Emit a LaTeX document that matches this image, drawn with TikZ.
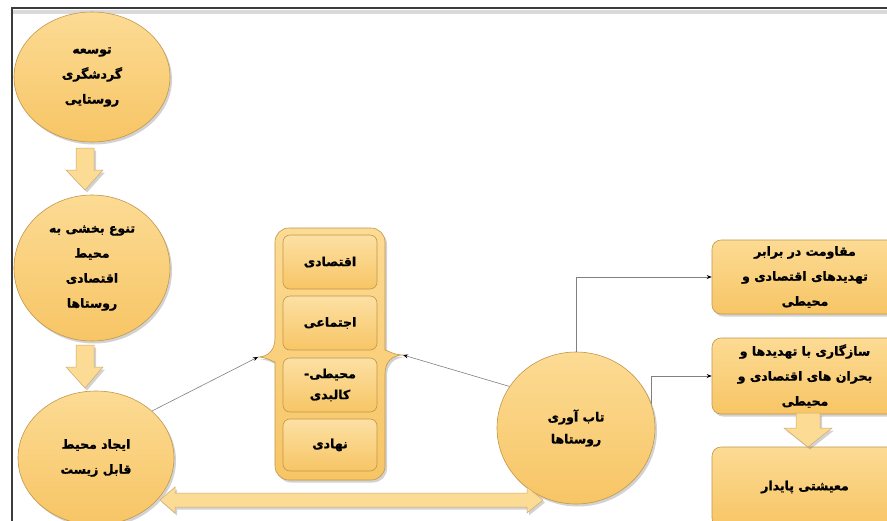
\documentclass[tikz,border=0pt]{standalone}
\usepackage{fontspec}
\newfontfamily\arabicfont[Script=Arabic, BoldFont={DejaVu Sans Bold}, BoldFeatures={FakeBold=1.2}]{DejaVu Sans}
\TeXXeTstate=1
\usetikzlibrary{shapes.geometric,shadows,arrows.meta,calc}
\newcommand{\fa}[1]{\beginR #1\endR}
\definecolor{fillA}{HTML}{FCDB94}
\definecolor{fillB}{HTML}{F7C565}
\definecolor{edgeC}{HTML}{C3964A}
\definecolor{frameC}{HTML}{3C3C3C}
\definecolor{lineC}{HTML}{808080}
\tikzset{
  txt/.style={font=\arabicfont\bfseries\fontsize{12.5}{25}\selectfont, align=center, text=black},
  shad/.style={drop shadow={opacity=0.35, shadow xshift=2pt, shadow yshift=-2.5pt}},
  oval/.style={ellipse, draw=edgeC, line width=0.6pt, top color=fillA, bottom color=fillB, inner sep=0pt, shad, txt},
  rbox/.style={rectangle, rounded corners=9pt, draw=edgeC, line width=0.6pt, top color=fillA, bottom color=fillB, inner sep=0pt, shad, txt},
  ibox/.style={rectangle, rounded corners=7pt, draw=edgeC, line width=0.6pt, top color=fillA!85!white, bottom color=fillB, inner sep=0pt, minimum width=94pt, minimum height=54pt, txt},
  holder/.style={draw=edgeC, line width=0.6pt, top color=fillA, bottom color=fillB, shad},
  barrow/.style={draw=edgeC!80!white, line width=0.5pt, fill=fillA, shad},
  conn/.style={draw=lineC, line width=0.6pt, -{Stealth[length=5pt,width=4pt,black]}},
}
\begin{document}
\begin{tikzpicture}[x=1pt,y=-1pt]
\useasboundingbox (0,0) rectangle (887,520);
\clip (0,0) rectangle (887,520);
\fill[white] (0,0) rectangle (887,520);
% frame
\fill[black!15] (12,10) rectangle (900,14);
\draw[frameC, line width=2.2pt] (12,530) -- (12,8) -- (900,8);

% left column
\node[oval, minimum width=156pt, minimum height=130pt] (e1) at (92,77)
  {\fa{توسعه}\\\fa{گردشگری}\\\fa{روستایی}};
\node[oval, minimum width=156pt, minimum height=146pt] (e2) at (92,268)
  {\fa{تنوع بخشی به}\\\fa{محیط}\\\fa{اقتصادی}\\\fa{روستاها}};
\node[oval, minimum width=156pt, minimum height=134pt] (e3) at (96,458)
  {\fa{ایجاد محیط}\\\fa{قابل زیست}};

% block arrows down
\path[barrow] (76,148) -- (94,148) -- (94,170) -- (103,170) -- (85,190) -- (66,170) -- (76,170) -- cycle;
\path[barrow] (76,345) -- (94,345) -- (94,367) -- (103,367) -- (85,388) -- (66,367) -- (76,367) -- cycle;

% container with braces
\coordinate (bl) at (258,357);
\coordinate (br) at (403,355);
\path[holder, rounded corners=14pt] (275,338) -- (275,228) -- (385,228) -- (385,336)
  [sharp corners] .. controls (385,349) and (393,355) .. (br)
  .. controls (393,355) and (385,361) .. (385,374)
  [rounded corners=14pt] -- (385,480) -- (275,480) -- (275,376)
  [sharp corners] .. controls (275,363) and (267,357) .. (bl)
  .. controls (267,357) and (275,351) .. (275,338) -- cycle;

\node[ibox] (b1) at (330,262) {\fa{اقتصادی}};
\node[ibox] (b2) at (330,323) {\fa{اجتماعی}};
\node[ibox] (b3) at (330,385) {\fa{محیطی-}\\[-4pt]\fa{کالبدی}};
\node[ibox, minimum height=52pt] (b4) at (330,445) {\fa{نهادی}};

% resilience
\node[oval, minimum width=158pt, minimum height=152pt] (e4) at (576,428)
  {\fa{تاب آوری}\\[-3pt]\fa{روستاها}};

% right boxes
\node[rbox, minimum width=186pt, minimum height=74pt] (r1) at (805,277)
  {\fa{مقاومت در برابر}\\\fa{تهدیدهای اقتصادی و}\\\fa{محیطی}};
\node[rbox, minimum width=186pt, minimum height=76pt] (r2) at (805,376)
  {\fa{سازگاری با تهدیدها و}\\\fa{بحران های اقتصادی و}\\\fa{محیطی}};
\node[rbox, minimum width=186pt, minimum height=80pt] (r3) at (805,487)
  {\fa{معیشتی پایدار}};

\path[barrow] (796,413) -- (820,413) -- (820,428) -- (832,428) -- (808,447) -- (784,428) -- (796,428) -- cycle;

% double block arrow at bottom
\path[barrow] (160,500) -- (175,487) -- (175,493) -- (527,493) -- (527,487) -- (543,500)
  -- (527,513) -- (527,507) -- (175,507) -- (175,513) -- cycle;

% connectors
\draw[conn] (e3.40) -- (bl);
\draw[conn] (e4.148) -- (br);
\draw[conn] (e4.north) |- (r1.west);
\draw[conn] (e4.18) |- (r2.west);
\end{tikzpicture}
\end{document}
